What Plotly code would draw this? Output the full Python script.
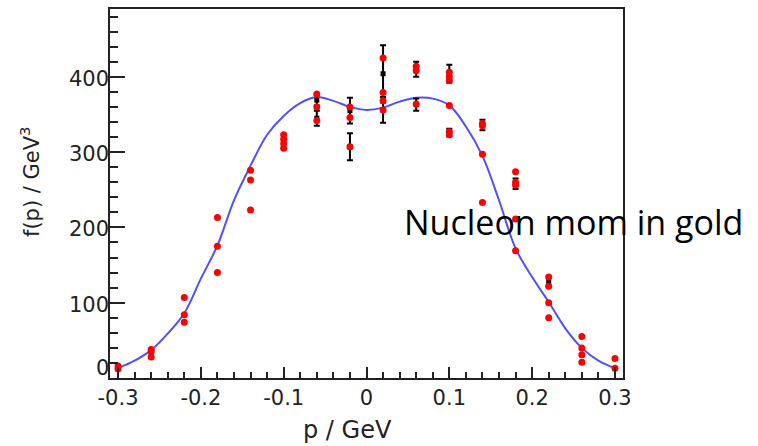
import plotly.graph_objects as go

# ---- data ----
red_x = ([-0.30]*2 + [-0.26]*3 + [-0.22]*3 + [-0.18]*3 + [-0.14]*3 + [-0.10]*4 +
         [-0.06]*3 + [-0.02]*3 + [0.02]*4 + [0.06]*3 + [0.10]*6 + [0.14]*4 +
         [0.18]*5 + [0.22]*4 + [0.26]*4 + [0.30]*2)
red_y = [16, 12,
         38, 35, 28,
         107, 84, 74,
         213, 175, 140,
         276, 263, 223,
         323, 317, 311, 305,
         377, 360, 342,
         360, 346, 307,
         425, 379, 368, 356,
         414, 408, 364,
         406, 400, 395, 362, 327, 323,
         338, 335, 297, 233,
         274, 260, 256, 211, 169,
         134, 122, 100, 80,
         55, 40, 31, 21,
         26, 13]

err_x = [-0.06, -0.06, -0.02, -0.02, 0.02, 0.02, 0.06, 0.06, 0.10, 0.10, 0.14, 0.18, 0.22]
err_y = [369, 345, 355, 307, 404, 356, 410, 363, 404, 326, 336, 258, 128]
err_e = [7, 10, 17, 18, 38, 17, 10, 8, 12, 5, 7, 7, 6]

fit_x = [-0.30, -0.28, -0.26, -0.24, -0.22, -0.20, -0.18, -0.16, -0.14, -0.12, -0.10,
         -0.08, -0.06, -0.04, -0.02, 0.00, 0.02, 0.04, 0.06, 0.08, 0.10,
         0.12, 0.14, 0.16, 0.18, 0.20, 0.22, 0.24, 0.26, 0.28, 0.30]
fit_y = [13, 23, 37, 59, 86, 132, 176, 236, 282, 323, 348,
         365, 373, 368, 360, 356, 359, 367, 372, 371, 362,
         334, 295, 236, 172, 134, 101, 66, 40, 23, 13]

x_ticks = [-0.3, -0.2, -0.1, 0, 0.1, 0.2, 0.3]
x_tick_text = ["-0.3", "-0.2", "-0.1", "0", "0.1", "0.2", "0.3"]
y_ticks = [0, 100, 200, 300, 400]
y_tick_text = ["0", "100", "200", "300", "400"]

FONT = "DejaVu Sans, Liberation Sans, Arial, sans-serif"

fig = go.Figure()
fig.add_trace(go.Scatter(
    x=fit_x, y=fit_y, mode="lines", line=dict(color="rgb(80,80,255)", width=2, shape="spline", smoothing=1.0),
    hoverinfo="skip", showlegend=False))
fig.add_trace(go.Scatter(
    x=err_x, y=err_y, mode="markers",
    marker=dict(color="black", size=5, symbol="square"),
    error_y=dict(type="data", array=err_e, color="black", thickness=2, width=3),
    showlegend=False))
fig.add_trace(go.Scatter(
    x=red_x, y=red_y, mode="markers",
    marker=dict(color="red", size=7, symbol="circle", line=dict(width=0)),
    showlegend=False))

axis_common = dict(
    showline=True, linecolor="#222", linewidth=2, mirror=True,
    ticks="inside", tickcolor="#222", tickwidth=2,
    showgrid=False, zeroline=False, automargin=False,
    tickfont=dict(family=FONT, size=21, color="#222"),
)
fig.update_xaxes(range=[-0.3097, 0.3097], tickvals=x_ticks, ticktext=x_tick_text, ticklen=11,
                 minor=dict(dtick=0.02, tick0=0, ticks="inside", ticklen=6, tickcolor="#222", tickwidth=2),
                 **axis_common)
fig.update_yaxes(range=[0, 490], tickvals=y_ticks, ticklen=15, showticklabels=False,
                 minor=dict(dtick=20, tick0=0, ticks="inside", ticklen=8, tickcolor="#222", tickwidth=2),
                 **axis_common)

# y tick labels placed tight against the axis (origin label lifted, as in the reference)
annotations = []
for v, t in zip(y_ticks, y_tick_text):
    annotations.append(dict(
        text=t, xref="paper", yref="y", x=(111-110)/513, y=v,
        xanchor="right", yanchor="middle", showarrow=False,
        yshift=10 if v == 0 else -2,
        font=dict(family=FONT, size=21, color="#222")))

annotations += [
    dict(text="p / GeV", xref="paper", yref="paper", x=0.463, y=-0.141,
         xanchor="center", yanchor="middle", showarrow=False,
         font=dict(family=FONT, size=24, color="#222")),
    dict(text="f(p) / GeV<sup>3</sup>", xref="paper", yref="paper", x=-0.156, y=(378-182)/369,
         xanchor="center", yanchor="middle", showarrow=False, textangle=-90,
         font=dict(family=FONT, size=21, color="#222")),
    dict(text="Nucleon mom in gold", xref="paper", yref="paper", x=(402-110)/513, y=(378-222)/369,
         xanchor="left", yanchor="middle", showarrow=False,
         font=dict(family="Open Sans, Lato, sans-serif", size=34, color="black")),
]

fig.update_layout(
    width=758, height=446,
    margin=dict(l=110, r=135, t=9, b=68),
    paper_bgcolor="white", plot_bgcolor="white",
    annotations=annotations,
)

fig.write_html("out.html", config={"displayModeBar": False},
               post_script="document.body.style.margin='0';")
